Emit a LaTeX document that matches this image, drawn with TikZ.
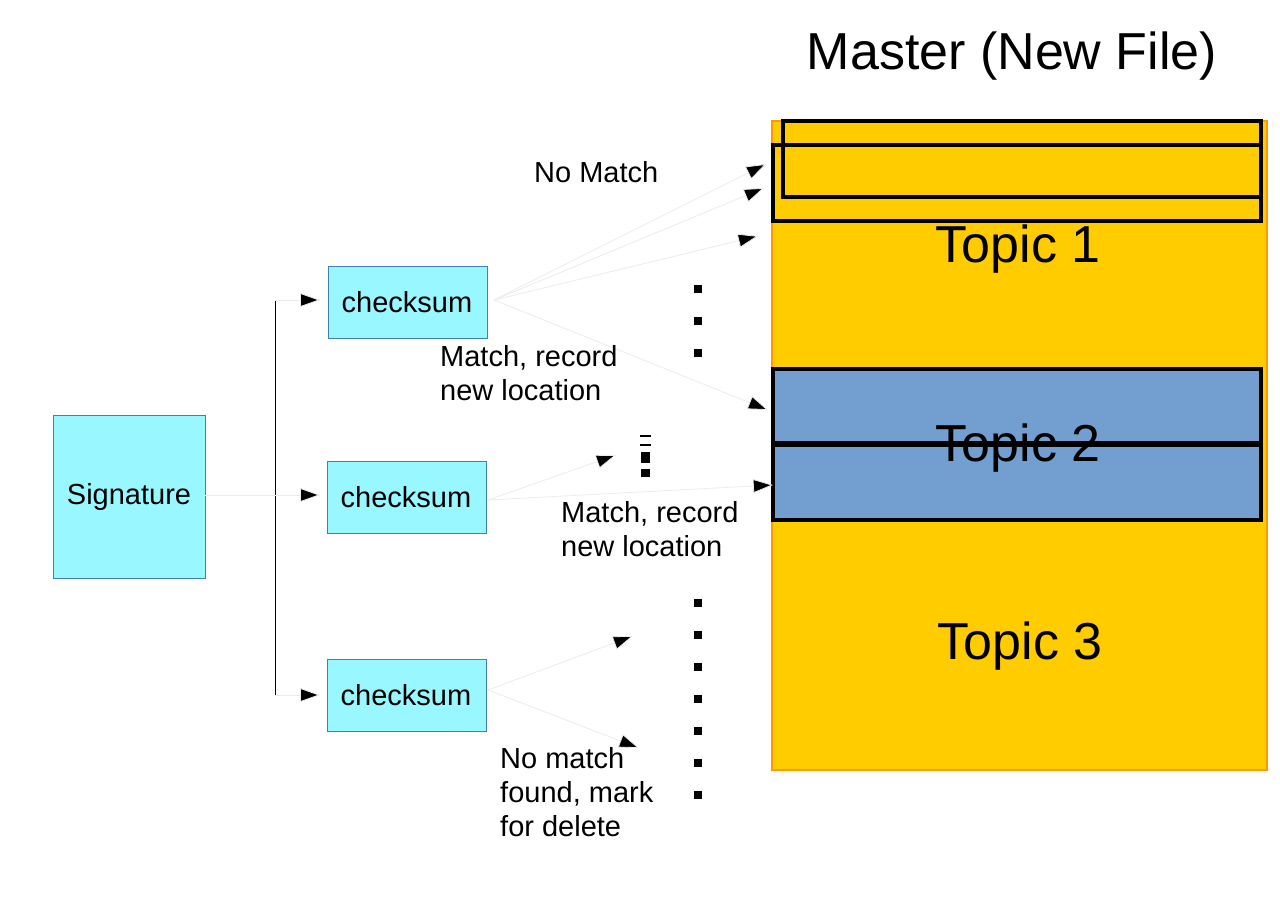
\documentclass[tikz,border=0pt]{standalone}
\usepackage{fontspec}
\setmainfont{Liberation Sans}
\usetikzlibrary{arrows.meta}
\definecolor{cy}{HTML}{99F8FF}
\definecolor{cyb}{HTML}{3F7FBF}
\definecolor{gold}{HTML}{FFCC00}
\definecolor{org}{HTML}{FF9900}
\definecolor{blu}{HTML}{729FCF}
\begin{document}
\begin{tikzpicture}[x=1pt,y=-1pt,
  box/.style={draw=cyb,fill=cy,line width=0.8pt},
  txt/.style={font=\fontsize{29}{34}\selectfont},
  lbl/.style={font=\fontsize{29}{34}\selectfont,align=left,anchor=north west,inner sep=0},
  topic/.style={font=\fontsize{52}{56}\selectfont},
  con/.style={draw=black!8,line width=0.8pt,-{Triangle[length=20pt,width=14pt,fill=black]}},
  blk/.style={draw=black,line width=3.5pt},
  dot/.style={fill=black}]
\useasboundingbox (0,0) rectangle (1280,905);
\node[font=\fontsize{52}{56}\selectfont] (title) at (1012,56) {Master (New File)};
\fill[gold,draw=org,line width=2.5pt] (772,121) rectangle (1267,770);
\fill[blu,draw=cyb!70!black,line width=2pt] (772,369) rectangle (1262,520);
\draw[blk] (783,121) rectangle (1261,197);
\draw[blk] (773,145) rectangle (1261,221);
\draw[blk] (773,369) rectangle (1261,445);
\draw[blk] (773,443) rectangle (1261,520);
\node[topic] (t1) at (1018,249) {Topic 1};
\node[topic] (t2) at (1018,448) {Topic 2};
\node[topic] (t3) at (1020,646) {Topic 3};
% boxes
\path[box] (53,415) rectangle (205,578);
\node[txt] (sig) at (129,497) {Signature};
\path[box] (328,266) rectangle (487,338);
\node[txt] (c1) at (407,302) {checksum};
\path[box] (327,461) rectangle (486,533);
\node[txt] (c2) at (406,497) {checksum};
\path[box] (327,659) rectangle (486,731);
\node[txt] (c3) at (406,695) {checksum};
% coordinates
\coordinate (b1) at (275,300); \coordinate (b3) at (275,695);
\coordinate (bt) at (275,300); \coordinate (bb) at (275,695);
\coordinate (s) at (205,495);
\coordinate (a1) at (320,300); \coordinate (a2) at (320,495); \coordinate (a3) at (320,695);
\draw[line width=0.8pt] (bt) -- (bb);
\draw[con] (s) -- (a2);
\draw[con] (b1) -- (a1);
\draw[con] (b3) -- (a3);
\coordinate (o1) at (494,300); \coordinate (o2) at (488,500); \coordinate (o3) at (488,690);
\coordinate (e1) at (766,164); \coordinate (e2) at (764,188); \coordinate (e3) at (758,236); \coordinate (e4) at (768,410);
\coordinate (e5) at (616,455); \coordinate (e6) at (773,485);
\coordinate (e7) at (633,636); \coordinate (e8) at (639,748);
\foreach \e in {e1,e2,e3,e4} \draw[con] (o1) -- (\e);
\foreach \e in {e5,e6} \draw[con] (o2) -- (\e);
\foreach \e in {e7,e8} \draw[con] (o3) -- (\e);
% dots
\foreach \y in {289,321,353} \fill[dot] (694,\y-4) rectangle (702,\y+4);
\foreach \y in {603,635,667,699,731,763,795} \fill[dot] (694,\y-4) rectangle (702,\y+4);
\fill[dot] (640,435) rectangle (651,437);
\fill[dot] (640,444) rectangle (651,446);
\fill[dot] (641,452) rectangle (650,463);
\fill[dot] (641,469) rectangle (650,477);
% labels
\node[lbl] (l1) at (534,161) {No Match};
\node[lbl] (l2) at (440,345) {Match, record\\new location};
\node[lbl] (l3) at (561,501) {Match, record\\new location};
\node[lbl] (l4) at (500,747) {No match\\found, mark\\for delete};
\end{tikzpicture}
\end{document}
